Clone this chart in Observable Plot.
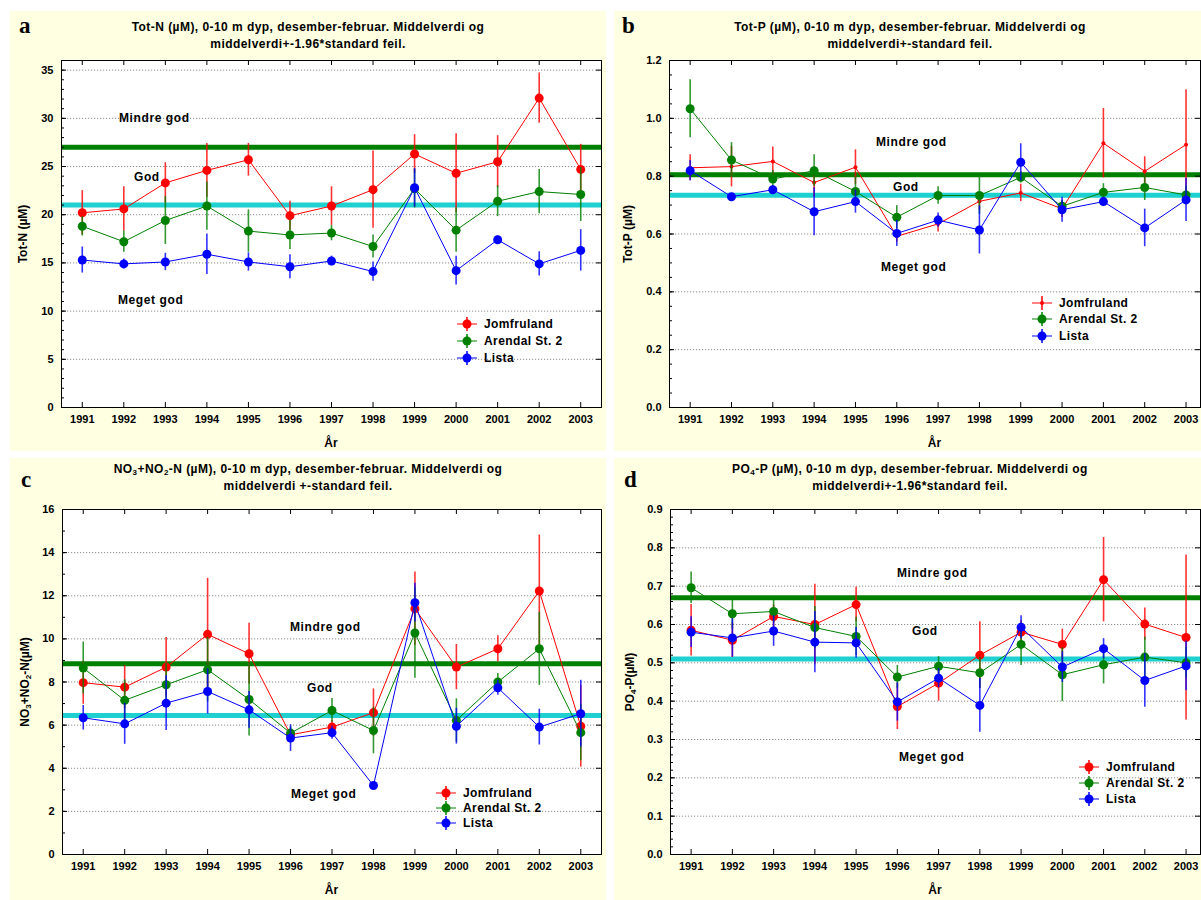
<!DOCTYPE html>
<html>
<head>
<meta charset="utf-8">
<script src="https://cdn.jsdelivr.net/npm/d3@7"></script>
<script src="https://cdn.jsdelivr.net/npm/@observablehq/plot@0.6"></script>
<style>
  html, body { margin: 0; padding: 0; background: #fff; }
  body { width: 1201px; height: 900px; position: relative; overflow: hidden;
         font-family: "Liberation Sans", Arial, sans-serif; color: #000; }
  .panel { position: absolute; background: #ffffe1; }
  .abs { position: absolute; white-space: nowrap; font-weight: bold; }
  .title { font-size: 12px; letter-spacing: 0.45px; transform: translateX(-50%); text-align: center; line-height: 17px; }
  .letter { font-family: "Liberation Serif", "Times New Roman", serif; font-size: 23px; font-weight: bold; }
  .cls { font-size: 12px; letter-spacing: 0.6px; transform: translateY(-50%); }
  .ylab { font-size: 12px; transform: translate(-50%, -50%) rotate(-90deg); }
  .xlab { font-size: 12px; transform: translate(-50%, -50%); }
  .leg { font-size: 12px; letter-spacing: 0.4px; transform: translateY(-50%); }
  sub { font-size: 8px; vertical-align: -2px; line-height: 0; }
  .plot-wrap { position: absolute; }
</style>
</head>
<body>
<script>
// Winter (December-February) means, 0-10 m depth, with error bars
const years = [1991, 1992, 1993, 1994, 1995, 1996, 1997, 1998, 1999, 2000, 2001, 2002, 2003];
const stations = ["Jomfruland", "Arendal St. 2", "Lista"];
const stationColors = ["#ff0000", "#008000", "#0000ff"];
const classNames = ["Mindre god", "God", "Meget god"];

// Tot-N (µM), mean and 1.96*standard error
const totNJomfruland = [20.2, 20.6, 23.3, 24.6, 25.7, 19.9, 20.9, 22.6, 26.3, 24.3, 25.5, 32.1, 24.7];
const totNJomfrulandErr = [2.3, 2.3, 2.1, 2.8, 1.7, 1.5, 2.0, 4.0, 2.0, 4.1, 2.7, 2.6, 2.6];
const totNArendal = [18.8, 17.2, 19.4, 20.9, 18.3, 17.9, 18.1, 16.7, 22.7, 18.4, 21.4, 22.4, 22.1];
const totNArendalErr = [1.0, 1.1, 2.5, 2.5, 2.2, 1.5, 0.8, 1.2, 2.0, 2.3, 1.6, 2.3, 2.8];
const totNLista = [15.3, 14.9, 15.1, 15.9, 15.1, 14.6, 15.2, 14.1, 22.8, 14.2, 17.4, 14.9, 16.3];
const totNListaErr = [1.35, 0.5, 0.9, 2.1, 0.95, 1.25, 0.5, 1.0, 2.0, 1.5, 0.4, 1.25, 2.15];
const totNLimits = [27, 21];

// Tot-P (µM), mean and standard error
const totPJomfruland = [0.829, 0.833, 0.851, 0.778, 0.831, 0.592, 0.635, 0.713, 0.742, 0.687, 0.914, 0.817, 0.909];
const totPJomfrulandErr = [0.045, 0.07, 0.05, 0.05, 0.06, 0.02, 0.028, 0.03, 0.03, 0.03, 0.12, 0.05, 0.19];
const totPArendal = [1.033, 0.856, 0.790, 0.819, 0.747, 0.658, 0.733, 0.733, 0.796, 0.696, 0.744, 0.761, 0.735];
const totPArendalErr = [0.10, 0.06, 0.03, 0.055, 0.05, 0.04, 0.03, 0.065, 0.02, 0.02, 0.03, 0.045, 0.03];
const totPLista = [0.819, 0.729, 0.753, 0.677, 0.712, 0.602, 0.648, 0.614, 0.848, 0.684, 0.712, 0.621, 0.718];
const totPListaErr = [0.035, 0.01, 0.015, 0.083, 0.04, 0.045, 0.025, 0.083, 0.064, 0.043, 0.015, 0.065, 0.075];
const totPLimits = [0.805, 0.734];

// NO3+NO2-N (µM), mean and standard error
const no3Jomfruland = [7.97, 7.76, 8.69, 10.21, 9.31, 5.55, 5.91, 6.58, 11.40, 8.69, 9.54, 12.22, 5.95];
const no3JomfrulandErr = [1.0, 1.0, 1.37, 2.6, 1.42, 0.2, 0.3, 1.1, 1.7, 1.05, 0.6, 2.6, 1.9];
const no3Arendal = [8.65, 7.15, 7.87, 8.57, 7.19, 5.63, 6.68, 5.75, 10.27, 6.22, 8.0, 9.54, 5.65];
const no3ArendalErr = [1.2, 0.95, 1.0, 1.5, 1.7, 0.3, 0.55, 1.08, 2.1, 1.0, 0.4, 1.7, 1.3];
const no3Lista = [6.34, 6.06, 7.02, 7.56, 6.71, 5.40, 5.65, 3.20, 11.68, 5.95, 7.73, 5.91, 6.53];
const no3ListaErr = [0.57, 0.95, 1.27, 1.05, 0.85, 0.62, 0.3, 0.1, 0.9, 0.83, 0.35, 0.83, 1.55];
const no3Limits = [8.85, 6.45];

// PO4-P (µM), mean and 1.96*standard error
const po4Jomfruland = [0.585, 0.559, 0.621, 0.600, 0.652, 0.386, 0.447, 0.520, 0.580, 0.548, 0.717, 0.601, 0.566];
const po4JomfrulandErr = [0.067, 0.045, 0.03, 0.105, 0.045, 0.06, 0.047, 0.087, 0.03, 0.04, 0.11, 0.042, 0.215];
const po4Arendal = [0.696, 0.628, 0.634, 0.592, 0.569, 0.463, 0.491, 0.474, 0.548, 0.469, 0.495, 0.515, 0.50];
const po4ArendalErr = [0.041, 0.04, 0.03, 0.055, 0.05, 0.03, 0.025, 0.04, 0.055, 0.07, 0.05, 0.052, 0.04];
const po4Lista = [0.580, 0.565, 0.583, 0.554, 0.552, 0.398, 0.460, 0.389, 0.593, 0.489, 0.537, 0.454, 0.492];
const po4ListaErr = [0.04, 0.05, 0.04, 0.08, 0.04, 0.05, 0.025, 0.07, 0.03, 0.04, 0.026, 0.07, 0.065];
const po4Limits = [0.67, 0.51];

function el(html, cls, css) {
  const d = document.createElement("div");
  d.className = "abs " + cls;
  d.innerHTML = html;
  Object.assign(d.style, css);
  document.body.appendChild(d);
  return d;
}

function legendIcon(color, small) {
  const r = small ? 2 : 4.5;
  return `<svg width="22" height="16" style="position:absolute;left:-11px;top:-8px;overflow:visible">
    <line x1="1" y1="8" x2="21" y2="8" stroke="${color}" stroke-width="1"/>
    <line x1="11" y1="1" x2="11" y2="15" stroke="${color}" stroke-width="1.5"/>
    <circle cx="11" cy="8" r="${r}" fill="${color}"/></svg>`;
}

function drawPanel(cfg) {
  const {box, frame, xDomain, yDomain, yTicks, yMinor, yFormat, series, limits, smallFirst} = cfg;
  // panel background
  const bg = document.createElement("div");
  bg.className = "panel";
  Object.assign(bg.style, {left: box[0] + "px", top: box[1] + "px", width: box[2] + "px", height: box[3] + "px"});
  document.body.appendChild(bg);

  const mL = frame[0] - box[0], mT = frame[1] - box[1];
  const mR = box[0] + box[2] - frame[2], mB = box[1] + box[3] - frame[3];
  const fw = frame[2] - frame[0], fh = frame[3] - frame[1];

  const rows = series.map((s, k) => years.map((year, i) => ({
    station: stations[k], year, mean: s[0][i], err: s[1][i]
  })));
  const grid = yTicks.filter(v => v > yDomain[0] && v < yDomain[1]);

  const marks = [
    Plot.frame({fill: "white", stroke: null}),
    Plot.gridY(grid, {stroke: "#8c8c8c", strokeOpacity: 1, strokeDasharray: "1.2,1.8"}),
    Plot.ruleY([limits[0]], {stroke: "#008000", strokeWidth: 5}),
    Plot.ruleY([limits[1]], {stroke: "#1fd0d0", strokeWidth: 5})
  ];
  rows.forEach((data, k) => {
    const color = stationColors[k];
    marks.push(
      Plot.ruleX(data, {x: "year", y1: d => d.mean - d.err, y2: d => d.mean + d.err,
        stroke: color, strokeWidth: 1.6, strokeOpacity: 0.8}),
      Plot.line(data, {x: "year", y: "mean", stroke: color, strokeWidth: 1}),
      Plot.dot(data, {x: "year", y: "mean", r: (smallFirst && k === 0) ? 2 : 4.5, fill: color, stroke: null})
    );
  });
  marks.push(
    Plot.tickX(years, {x: d => d, insetBottom: fh - 5, stroke: "black"}),
    Plot.tickX(years, {x: d => d, insetTop: fh - 5, stroke: "black"}),
    Plot.tickY(yMinor, {y: d => d, insetRight: fw - 3, stroke: "black"}),
    Plot.tickY(yTicks, {y: d => d, insetRight: fw - 5, stroke: "black"}),
    Plot.tickY(yTicks, {y: d => d, insetLeft: fw - 5, stroke: "black"}),
    Plot.axisY({ticks: yTicks, tickFormat: yFormat, tickSize: 0, tickPadding: 8, label: null}),
    Plot.axisX({ticks: years, tickFormat: d => String(d), tickSize: 0, tickPadding: 8, label: null}),
    Plot.frame({stroke: "black", strokeWidth: 1})
  );

  const chart = Plot.plot({
    width: box[2], height: box[3],
    marginLeft: mL, marginRight: mR, marginTop: mT, marginBottom: mB,
    x: {domain: xDomain},
    y: {domain: yDomain},
    style: {background: "transparent", fontFamily: "'Liberation Sans', Arial, sans-serif",
            fontSize: "11px", fontWeight: "bold", color: "black", overflow: "visible"},
    marks
  });
  const wrap = document.createElement("div");
  wrap.className = "plot-wrap";
  Object.assign(wrap.style, {left: box[0] + "px", top: box[1] + "px", width: box[2] + "px", height: box[3] + "px"});
  wrap.appendChild(chart);
  document.body.appendChild(wrap);

  // panel letter and two-line title
  el(cfg.letter, "letter", {left: cfg.letterPos[0] + "px", top: cfg.letterPos[1] + "px"});
  el(cfg.title.join("<br>"), "title", {left: cfg.titleX + "px", top: cfg.titleY + "px"});
  // axis titles
  el(cfg.yLabel, "ylab", {left: cfg.yLabelPos[0] + "px", top: cfg.yLabelPos[1] + "px"});
  el("År", "xlab", {left: (frame[0] + frame[2]) / 2 + "px", top: cfg.xLabelY + "px"});
  // class labels
  cfg.classPos.forEach((p, i) => el(classNames[i], "cls", {left: p[0] + "px", top: p[1] + "px"}));
  // legend
  cfg.legendRows.forEach((y, k) => {
    el(legendIcon(stationColors[k], smallFirst && k === 0), "leg",
      {left: cfg.legendX + "px", top: y + "px", width: "0px", height: "0px", transform: "none"});
    el(stations[k], "leg", {left: (cfg.legendX + 17) + "px", top: y + "px"});
  });
}

const fmtInt = d3.format("d");
const fmt1 = d3.format(".1f");

drawPanel({
  letter: "a", letterPos: [19, 13],
  title: ["Tot-N (µM), 0-10 m dyp, desember-februar. Middelverdi og", "middelverdi+-1.96*standard feil."],
  titleX: 308, titleY: 19,
  box: [10, 11, 596, 440], frame: [61, 60, 601, 407],
  xDomain: [1990.5, 2003.5], yDomain: [0, 36],
  yTicks: d3.range(0, 36, 5), yMinor: d3.range(0, 36, 1), yFormat: fmtInt,
  series: [[totNJomfruland, totNJomfrulandErr], [totNArendal, totNArendalErr], [totNLista, totNListaErr]],
  limits: totNLimits,
  yLabel: "Tot-N (µM)", yLabelPos: [23, 234], xLabelY: 443,
  classPos: [[119, 118], [134, 177], [118, 300]],
  legendX: 467, legendRows: [324, 341, 358]
});

drawPanel({
  letter: "b", letterPos: [622, 13],
  title: ["Tot-P (µM), 0-10 m dyp, desember-februar. Middelverdi og", "middelverdi+-standard feil."],
  titleX: 910, titleY: 19,
  box: [614, 11, 587, 440], frame: [669, 60, 1200, 407],
  xDomain: [1990.5, 2003.35], yDomain: [0, 1.2],
  yTicks: d3.range(0, 7).map(i => +(i * 0.2).toFixed(1)),
  yMinor: d3.range(0, 25).map(i => +(i * 0.05).toFixed(2)), yFormat: fmt1,
  series: [[totPJomfruland, totPJomfrulandErr], [totPArendal, totPArendalErr], [totPLista, totPListaErr]],
  limits: totPLimits, smallFirst: true,
  yLabel: "Tot-P (µM)", yLabelPos: [628, 234], xLabelY: 443,
  classPos: [[876, 142], [893, 187], [881, 267]],
  legendX: 1042, legendRows: [303, 319, 336]
});

drawPanel({
  letter: "c", letterPos: [21, 467],
  title: ["NO<sub>3</sub>+NO<sub>2</sub>-N (µM), 0-10 m dyp, desember-februar. Middelverdi og", "middelverdi +-standard feil."],
  titleX: 308, titleY: 461,
  box: [10, 458, 596, 442], frame: [62, 509, 601, 854],
  xDomain: [1990.5, 2003.5], yDomain: [0, 16],
  yTicks: d3.range(0, 17, 2), yMinor: d3.range(0, 17, 1), yFormat: fmtInt,
  series: [[no3Jomfruland, no3JomfrulandErr], [no3Arendal, no3ArendalErr], [no3Lista, no3ListaErr]],
  limits: no3Limits,
  yLabel: "NO<sub>3</sub>+NO<sub>2</sub>-N(µM)", yLabelPos: [25, 682], xLabelY: 890,
  classPos: [[290, 627], [307, 688], [291, 794]],
  legendX: 446, legendRows: [793, 808, 823]
});

drawPanel({
  letter: "d", letterPos: [624, 467],
  title: ["PO<sub>4</sub>-P (µM), 0-10 m dyp, desember-februar. Middelverdi og", "middelverdi+-1.96*standard feil."],
  titleX: 910, titleY: 461,
  box: [614, 458, 587, 442], frame: [670, 509, 1200, 854],
  xDomain: [1990.5, 2003.35], yDomain: [0, 0.9],
  yTicks: d3.range(0, 10).map(i => +(i * 0.1).toFixed(1)),
  yMinor: d3.range(0, 46).map(i => +(i * 0.02).toFixed(2)), yFormat: fmt1,
  series: [[po4Jomfruland, po4JomfrulandErr], [po4Arendal, po4ArendalErr], [po4Lista, po4ListaErr]],
  limits: po4Limits,
  yLabel: "PO<sub>4</sub>-P(µM)", yLabelPos: [630, 682], xLabelY: 890,
  classPos: [[897, 573], [912, 631], [899, 757]],
  legendX: 1089, legendRows: [767, 783, 799]
});
</script>
</body>
</html>
